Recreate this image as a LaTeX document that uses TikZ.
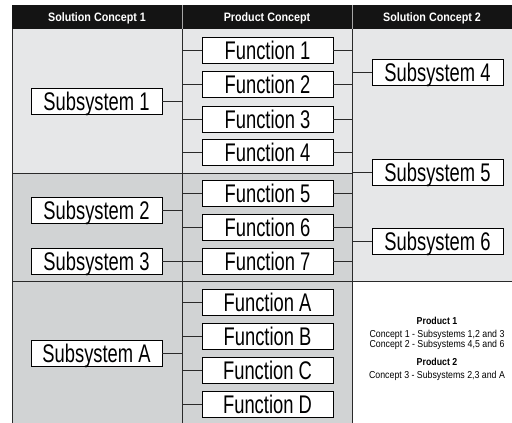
\documentclass[tikz,border=0pt]{standalone}
\usepackage{fontspec}
\setmainfont{Liberation Sans}
\newfontfamily\boxfont{Liberation Sans}[FakeStretch=0.72]
\newfontfamily\headfont{Liberation Sans}[FakeStretch=0.88]
\newfontfamily\notefont{Liberation Sans}[FakeStretch=0.87]
\definecolor{panellight}{HTML}{E6E7E8}
\definecolor{paneldark}{HTML}{D1D3D4}
\definecolor{headbg}{HTML}{141414}
\definecolor{rulecol}{HTML}{2A2A2A}
\tikzset{
  unitbox/.style={draw=black, line width=0.8pt, fill=white,
    minimum width=131pt, minimum height=26pt, inner sep=0pt,
    font=\boxfont\fontsize{25.5}{26}\selectfont,
    text height=18.3pt, text depth=0pt},
  headtext/.style={text=white, inner sep=0pt,
    font=\headfont\bfseries\fontsize{12.2}{13}\selectfont,
    text height=8.7pt, text depth=0pt},
  divider/.style={draw=rulecol, line width=1pt},
  conn/.style={draw=rulecol, line width=0.8pt},
  notetext/.style={align=center, inner sep=0pt,
    font=\notefont\fontsize{10.1}{10.3}\selectfont}
}
\begin{document}
\begin{tikzpicture}[x=1pt, y=-1pt]
  \useasboundingbox (0,0) rectangle (512,423);

  % column backgrounds
  \fill[panellight] (12,29) rectangle (352,173);
  \fill[paneldark] (12,173) rectangle (352,423);
  \fill[panellight] (352,29) rectangle (512,281);
  \fill[white] (352,281) rectangle (512,423);

  % header band
  \fill[headbg] (12,5) rectangle (512,29);
  \draw[gray!70, line width=0.8pt] (182,5) -- (182,29) (352,5) -- (352,29);
  \node[headtext] (h1) at (97,17) {Solution Concept 1};
  \node[headtext] (h2) at (267,17) {Product Concept};
  \node[headtext] (h3) at (432,17) {Solution Concept 2};

  % grid lines
  \coordinate (cl) at (182,0);
  \coordinate (cr) at (352,0);
  \draw[divider] (12,29) -- (12,423);
  \draw[divider] (182,29) -- (182,423);
  \draw[divider] (352,29) -- (352,423);
  \draw[divider] (12,173) -- (352,173);
  \draw[divider] (12,281) -- (512,281);

  % functions of the product concept
  \foreach \n/\y in {1/50,2/84.5,3/119,4/152.5,5/193,6/227.5,7/261,
                     A/302,B/336.5,C/370.5,D/404.5}{
    \draw[conn] (182,\y) -- (202,\y);
    \node[unitbox] (f\n) at (267.5,\y) {Function \n};
  }
  \foreach \n in {1,...,7}{
    \draw[conn] (f\n.east) -- (f\n.east -| cr);
  }

  % subsystems of solution concept 1
  \foreach \n/\y in {1/101,2/210,3/261,A/353.5}{
    \node[unitbox] (s\n) at (96.5,\y) {Subsystem \n};
    \draw[conn] (s\n.east) -- (s\n.east -| cl);
  }

  % subsystems of solution concept 2
  \foreach \n/\y in {4/72,5/172.5,6/241.5}{
    \node[unitbox] (s\n) at (437.5,\y) {Subsystem \n};
    \draw[conn] (s\n.west) -- (s\n.west -| cr);
  }

  % product summary
  \node[notetext] (summary) at (437,349)
    {\textbf{Product 1}\\[2.5pt]
     Concept 1 - Subsystems 1,2 and 3\\
     Concept 2 - Subsystems 4,5 and 6\\[8pt]
     \textbf{Product 2}\\[2.5pt]
     Concept 3 - Subsystems 2,3 and A};
\end{tikzpicture}
\end{document}
